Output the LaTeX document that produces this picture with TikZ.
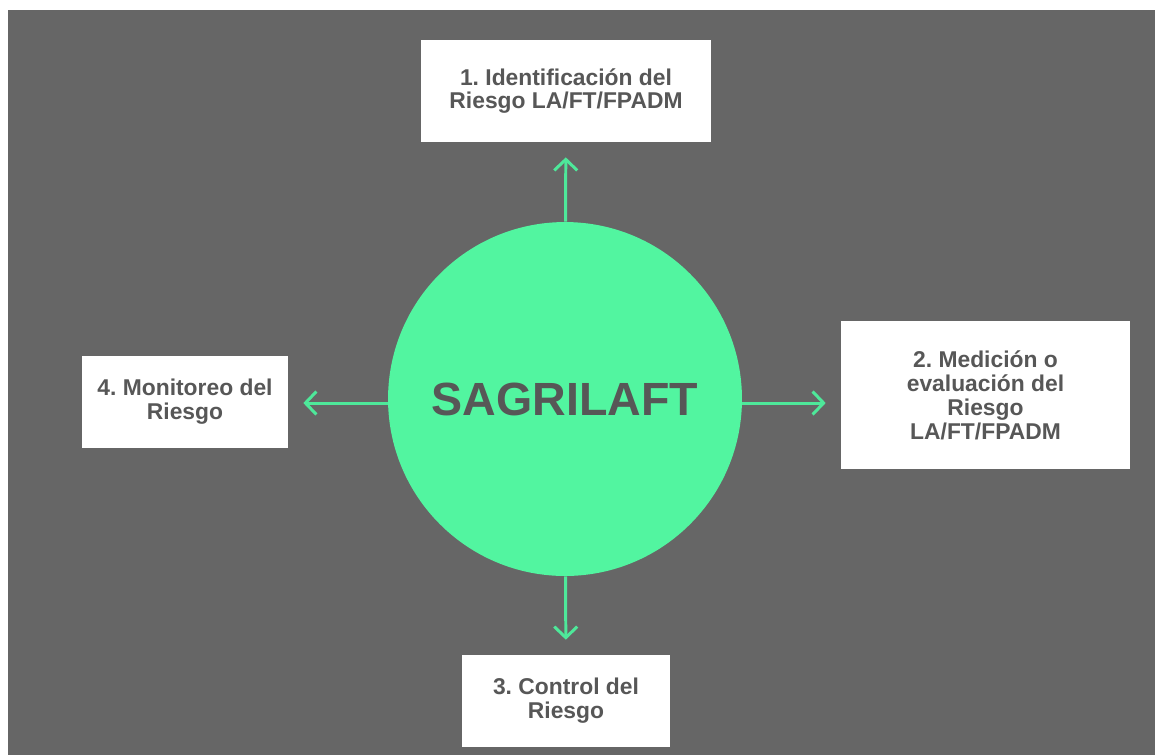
\documentclass[tikz,border=0pt]{standalone}
\usepackage{fontspec}
\setmainfont{Liberation Sans}
\usepackage{xcolor}
\usetikzlibrary{arrows.meta}
\frenchspacing

\definecolor{bggray}{HTML}{666666}
\definecolor{txtgray}{HTML}{575757}
\definecolor{mint}{HTML}{52F5A0}
\definecolor{mintline}{HTML}{4EE89A}

\tikzset{
	stepbox/.style={draw=none, fill=white, rectangle, align=center, text=txtgray,
		font=\fontsize{13}{13.6}\selectfont\bfseries, inner sep=0pt},
	flow/.style={draw=mintline, line width=1.7pt, shorten >=0.3cm,
		-{Straight Barb[length=2.2mm, width=4.6mm, line width=1.7pt]}}
}

\begin{document}
\begin{tikzpicture}[x=0.02cm, y=-0.02cm]
			\useasboundingbox[fill=white] (0,0) rectangle (1155,755);
			\fill[bggray] (8,10) rectangle (1155,755);
			
			\node[circle, fill=mint, minimum size=7.08cm, inner sep=0pt, text=txtgray,
				font=\fontsize{26.5}{30}\selectfont\bfseries] (sag) at (565,399) {SAGRILAFT};
			
			\node[stepbox, minimum width=5.8cm, minimum height=2.04cm] (ident) at (566,91) {1. Identificación del\\Riesgo LA/FT/FPADM};
			\node[stepbox, minimum width=5.78cm, minimum height=2.96cm] (meas) at (985.5,395) {2. Medición o\\evaluación del\\Riesgo\\LA/FT/FPADM};
			\node[stepbox, minimum width=4.16cm, minimum height=1.84cm] (ctrl) at (566,701) {3. Control del\\Riesgo};
			\node[stepbox, minimum width=4.12cm, minimum height=1.84cm] (moni) at (185,402) {4. Monitoreo del\\Riesgo};
			
			\draw[flow] (sag) -- (ident);
			\draw[flow] (sag) -- (ctrl);
			\draw[flow] (sag.east |- 0,403) -- (meas.west |- 0,403);
			\draw[flow] (sag.west |- 0,403) -- (moni.east |- 0,403);
		\end{tikzpicture}
\end{document}
